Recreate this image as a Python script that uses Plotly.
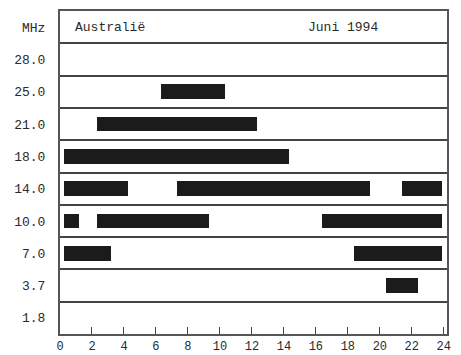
import plotly.graph_objects as go

# Frequency bands (bottom to top)
BANDS = ["1.8", "3.7", "7.0", "10.0", "14.0", "18.0", "21.0", "25.0", "28.0"]
HOURS = list(range(0, 25, 2))

# Open periods per band (UTC hours)
band = ["25.0", "21.0", "18.0", "14.0", "14.0", "14.0", "10.0", "10.0", "10.0", "7.0", "7.0", "3.7"]
start = [6.3, 2.3, 0.25, 0.25, 7.3, 21.4, 0.25, 2.3, 16.4, 0.25, 18.4, 20.4]
end = [10.3, 12.3, 14.3, 4.25, 19.4, 23.9, 1.2, 9.3, 23.9, 3.2, 23.9, 22.4]

FONT = "Liberation Mono, Courier New, monospace"
INK = "#2a2a2a"

ypos = [BANDS.index(b) for b in band]
dur = [e - s for s, e in zip(start, end)]

fig = go.Figure()
fig.add_trace(go.Bar(
    y=ypos, x=dur, base=start, orientation="h", width=0.46,
    marker=dict(color="#1b1b1b", line=dict(width=0)),
    showlegend=False, hoverinfo="skip",
))

# page body has an 8px default margin, so the figure is a bit smaller
fig.update_layout(
    width=453, height=347,
    margin=dict(l=52, r=14, t=3, b=21),
    paper_bgcolor="white", plot_bgcolor="white",
    font=dict(family=FONT, size=13, color=INK),
    bargap=0,
)
fig.update_xaxes(
    range=[0, 24.2], tickvals=HOURS, ticktext=[str(h) for h in HOURS],
    ticks="inside", ticklen=7, tickcolor="#444", tickwidth=1,
    showgrid=False, zeroline=False, automargin=False,
    showline=True, mirror=True, linecolor="#555", linewidth=2,
    ticklabelstandoff=0, tickfont=dict(size=12),
)
fig.update_yaxes(
    range=[-0.5, 9.5],
    tickvals=list(range(len(BANDS))) + [9], ticktext=BANDS + ["MHz"],
    ticks="", showgrid=False, zeroline=False, automargin=False,
    showline=True, mirror=True, linecolor="#555", linewidth=2,
    ticklabelstandoff=10, tickfont=dict(size=13),
    minor=dict(tickvals=[k + 0.5 for k in range(len(BANDS))],
               showgrid=True, gridcolor="#444", gridwidth=1.5, ticks=""),
)
fig.add_annotation(x=0.8, y=9, xref="x", yref="y", text="Australië",
                   showarrow=False, xanchor="left", font=dict(size=13, color=INK))
fig.add_annotation(x=15.4, y=9, xref="x", yref="y", text="Juni 1994",
                   showarrow=False, xanchor="left", font=dict(size=13, color=INK))

fig.write_html("out.html")
